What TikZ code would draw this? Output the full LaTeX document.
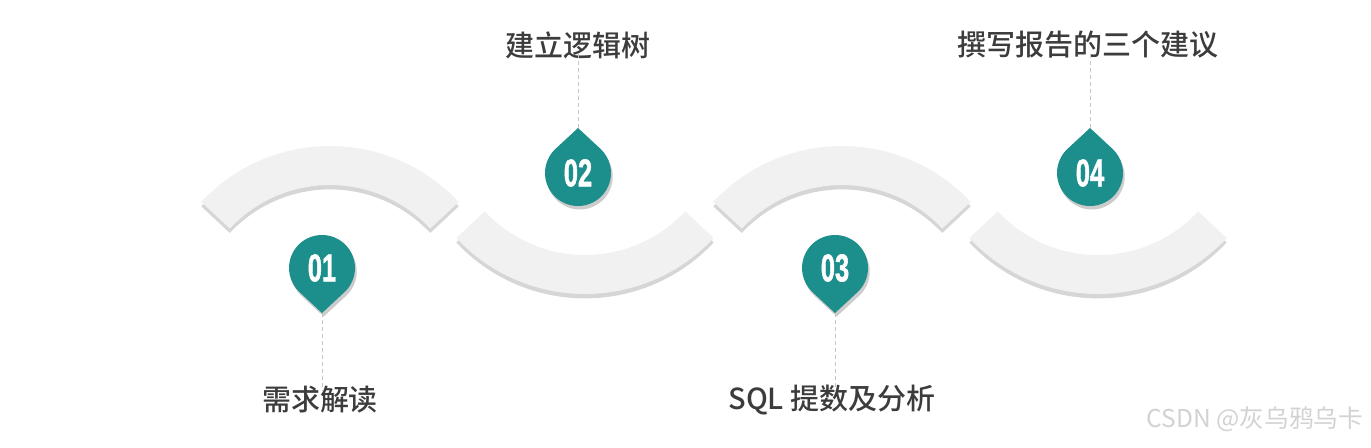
\documentclass[tikz,border=0pt]{standalone}
\usepackage{fontspec}
\setmainfont{Liberation Sans}
\newfontfamily\cjk{Noto Sans CJK SC}
\newfontfamily\cjkmid{Noto Sans CJK SC Medium}
\newfontfamily\numfont[FakeBold=1.5]{Liberation Sans Bold}
\usepackage{graphicx}
\usetikzlibrary{calc,shadows}
\definecolor{dropteal}{HTML}{1C8E8B}
\definecolor{bandgray}{HTML}{F1F1F1}
\definecolor{labelgray}{HTML}{3C3C3C}

\begin{document}
\begin{tikzpicture}[x=0.02cm,y=0.02cm,
  band/.style={fill=bandgray,drop shadow={shadow xshift=0pt,shadow yshift=-2.5pt,opacity=0.16,fill=black}},
  drop/.style={fill=dropteal,drop shadow={shadow xshift=1pt,shadow yshift=-2pt,opacity=0.2,fill=black}},
  num/.style={text=white,font=\numfont\fontsize{22}{22}\selectfont},
  steplabel/.style={text=labelgray,font=\cjkmid\fontsize{16.5}{20}\selectfont},
  guide/.style={gray!45,dash pattern=on 2pt off 2pt}]
  \useasboundingbox (0,0) rectangle (1371,447);
  % curved bands
  \foreach \cx/\cy/\a [evaluate=\a as \b using \a+94] in {330/125/43,585/329/223,842/125/43,1098/329/223}
    \path[band] ($(\cx,\cy)+(\a:176)$) arc[start angle=\a,end angle=\b,radius=176]
      -- ($(\cx,\cy)+(\b:137)$) arc[start angle=\b,end angle=\a,radius=137] -- cycle;
  % drop markers with numbers and labels
  \foreach \i/\x/\y/\d/\lx/\ly/\txt [evaluate=\d as \s using \d+42.8, evaluate=\d as \e using \d+317.2] in
    {1/322/179/-90/320/47/需求解读, 2/578/274/90/578/402/建立逻辑树,
     3/835/179/-90/832/47/SQL 提数及分析, 4/1090/274/90/1088/402/撰写报告的三个建议}{
    \coordinate (t\i) at ($(\x,\y)+(\d:45)$);
    \path[drop] (t\i) -- ($(\x,\y)+(\s:33)$) arc[start angle=\s,end angle=\e,radius=33] -- cycle;
    \node[num] (n\i) at (\x,\y) {\scalebox{0.66}[1]{0\i}};
    \node[steplabel] (l\i) at (\lx,\ly) {\txt};
    \draw[guide,shorten >=5pt] (t\i) -- (t\i |- l\i.center);
  }
  % watermark
  \node[text=gray!35,font=\cjk\fontsize{14}{16}\selectfont,anchor=east] (mark) at (1369,28) {CSDN @灰乌鸦乌卡};
\end{tikzpicture}
\end{document}
